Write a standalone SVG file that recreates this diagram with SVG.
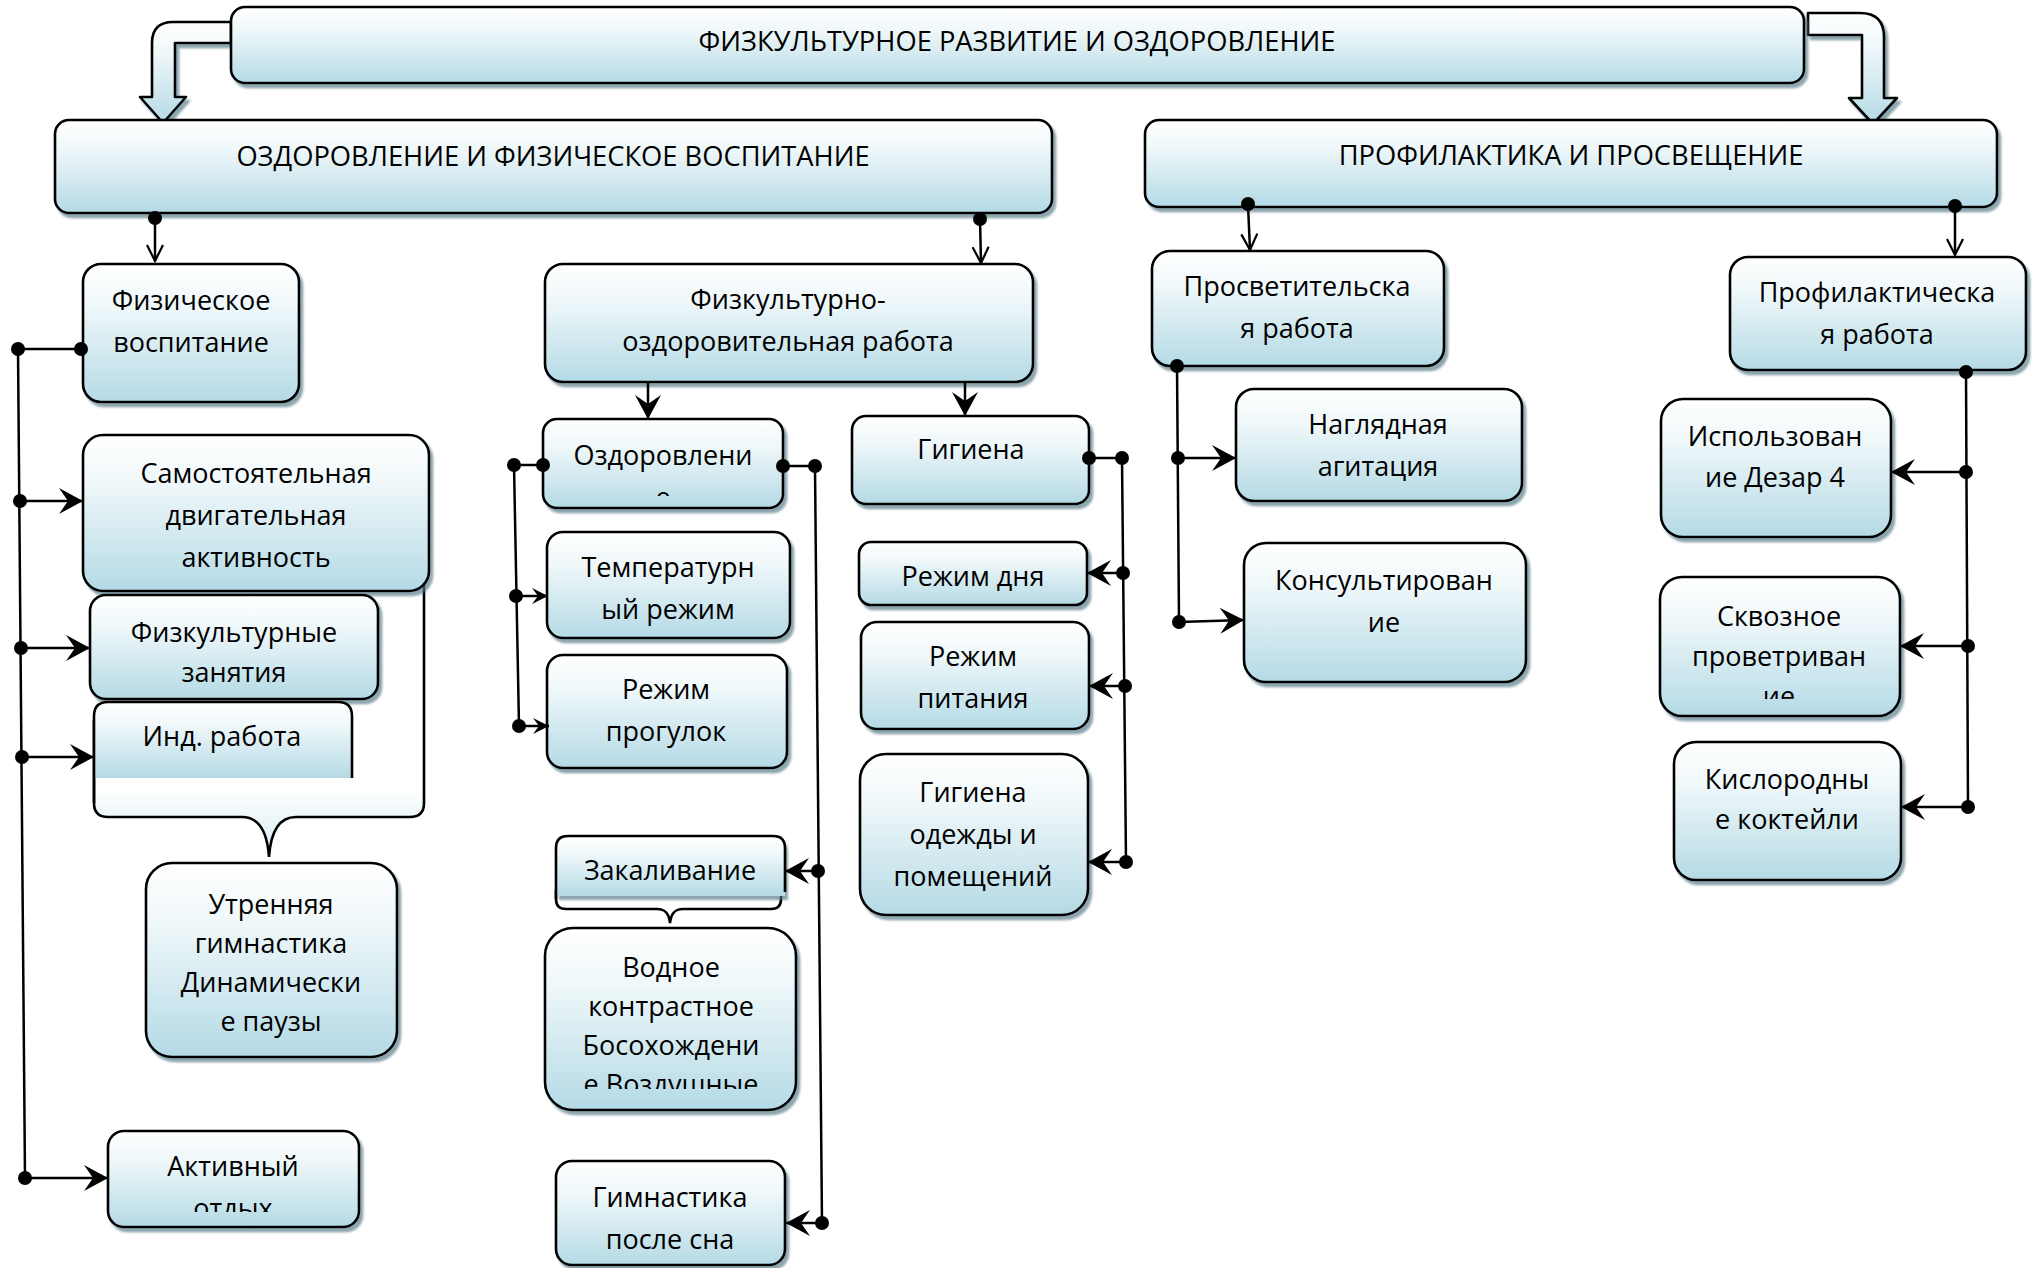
<svg xmlns="http://www.w3.org/2000/svg" width="2038" height="1268" viewBox="0 0 2038 1268">
<defs>
<linearGradient id="g" x1="0" y1="0" x2="0" y2="1">
<stop offset="0" stop-color="#ffffff"/>
<stop offset="0.3" stop-color="#f0f8fa"/>
<stop offset="1" stop-color="#b4dae5"/>
</linearGradient>
<linearGradient id="gb" x1="0" y1="0" x2="0" y2="1">
<stop offset="0" stop-color="#ffffff"/>
<stop offset="0.75" stop-color="#ffffff"/>
<stop offset="1" stop-color="#d3ebf1"/>
</linearGradient>
<filter id="sh" x="-5%" y="-5%" width="115%" height="120%">
<feDropShadow dx="3" dy="4" stdDeviation="1" flood-color="#4f7382" flood-opacity="0.65"/>
</filter>
<marker id="dart" viewBox="-26 -15 28 30" refX="0" refY="0" markerWidth="28" markerHeight="30" orient="auto" markerUnits="userSpaceOnUse">
<path d="M0,0 L-24,-13 L-15,0 L-24,13 Z" fill="#000"/>
</marker>
<marker id="sdart" viewBox="-18 -10 20 20" refX="0" refY="0" markerWidth="20" markerHeight="20" orient="auto" markerUnits="userSpaceOnUse">
<path d="M0,0 L-16,-8 L-10,0 L-16,8 Z" fill="#000"/>
</marker>
<marker id="vee" viewBox="-20 -11 22 22" refX="0" refY="0" markerWidth="22" markerHeight="22" orient="auto" markerUnits="userSpaceOnUse">
<path d="M-16,-8 L0,0 L-16,8" fill="none" stroke="#000" stroke-width="2.2"/>
</marker>
<clipPath id="c8"><rect x="543" y="419" width="240" height="77"/></clipPath>
<clipPath id="c6"><rect x="108" y="1131" width="251" height="81"/></clipPath>
<clipPath id="c12"><rect x="545" y="928" width="251" height="161"/></clipPath>
<clipPath id="c23"><rect x="1660" y="577" width="240" height="122"/></clipPath>
<style>
.box{fill:url(#g);stroke:#000;stroke-width:2.6;filter:url(#sh)}
.t{font-family:"Open Sans","DejaVu Sans",sans-serif;font-size:27px;text-anchor:middle;fill:#000}
.h{font-size:27.3px}
.ln{stroke:#000;stroke-width:2.5;fill:none}
.dot{fill:#000}
.barrow{fill:url(#g);stroke:#000;stroke-width:2.6;stroke-linejoin:round;filter:url(#sh)}
</style>
</defs>
<rect width="2038" height="1268" fill="#ffffff"/>

<!-- bent block arrows -->
<g id="bent-left">
<path class="barrow" d="M231,22 H173 Q152,22 152,43 V97 H140 L163,123 L186,97 H175 V43 H231 Z"/>
</g>
<g id="bent-right">
<path class="barrow" d="M1808,13 H1860 Q1884,13 1884,37 V98 H1897 L1873,124 L1849,98 H1862 V35 H1808 Z"/>
</g>

<g id="top">
<rect class="box" x="231" y="7" width="1573" height="76" rx="14"/>
<text class="t h" x="1017" y="51">ФИЗКУЛЬТУРНОЕ РАЗВИТИЕ И ОЗДОРОВЛЕНИЕ</text>
</g>
<g id="ozdorovlenie-header">
<rect class="box" x="55" y="120" width="997" height="93" rx="14"/>
<text class="t h" x="553" y="166">ОЗДОРОВЛЕНИЕ И ФИЗИЧЕСКОЕ ВОСПИТАНИЕ</text>
</g>
<g id="profilaktika-header">
<rect class="box" x="1145" y="120" width="852" height="87" rx="14"/>
<text class="t h" x="1571" y="165">ПРОФИЛАКТИКА И ПРОСВЕЩЕНИЕ</text>
</g>

<!-- brace callout behind Инд. работа -->
<g id="ind-brace">
<path d="M424,583 V803 Q424,817 410,817 H296 C281,817 271,828 269,857 C267,828 257,817 242,817 H108 Q94,817 94,803 V720" fill="url(#gb)" stroke="#000" stroke-width="2.6"/>
</g>

<g id="n1">
<rect class="box" x="83" y="264" width="216" height="138" rx="18"/>
<text class="t" x="191" y="310">Физическое</text>
<text class="t" x="191" y="352">воспитание</text>
</g>
<g id="n2">
<rect class="box" x="83" y="435" width="346" height="156" rx="20"/>
<text class="t" x="256" y="483">Самостоятельная</text>
<text class="t" x="256" y="525">двигательная</text>
<text class="t" x="256" y="567">активность</text>
</g>
<g id="n3">
<rect class="box" x="90" y="595" width="288" height="104" rx="16"/>
<text class="t" x="234" y="642">Физкультурные</text>
<text class="t" x="234" y="682">занятия</text>
</g>
<g id="n4">
<path d="M94,778 V716 Q94,702 108,702 H338 Q352,702 352,716 V778 Z" fill="url(#g)"/>
<path d="M94,803 V716 Q94,702 108,702 H338 Q352,702 352,716 V778" fill="none" stroke="#000" stroke-width="2.6"/>
<text class="t" x="222" y="746">Инд. работа</text>
</g>
<g id="n5">
<rect class="box" x="146" y="863" width="251" height="194" rx="26"/>
<text class="t" x="271" y="914">Утренняя</text>
<text class="t" x="271" y="953">гимнастика</text>
<text class="t" x="271" y="992">Динамически</text>
<text class="t" x="271" y="1031">е паузы</text>
</g>
<g id="n6">
<rect class="box" x="108" y="1131" width="251" height="96" rx="16"/>
<g clip-path="url(#c6)">
<text class="t" x="233" y="1176">Активный</text>
<text class="t" x="233" y="1218">отдых</text>
</g>
</g>

<g id="n7">
<rect class="box" x="545" y="264" width="488" height="118" rx="18"/>
<text class="t" x="788" y="309">Физкультурно-</text>
<text class="t" x="788" y="351">оздоровительная работа</text>
</g>
<g id="n8">
<rect class="box" x="543" y="419" width="240" height="89" rx="14"/>
<g clip-path="url(#c8)">
<text class="t" x="663" y="465">Оздоровлени</text>
<text class="t" x="663" y="507">е</text>
</g>
</g>
<g id="n9">
<rect class="box" x="547" y="532" width="243" height="106" rx="16"/>
<text class="t" x="668" y="577">Температурн</text>
<text class="t" x="668" y="619">ый режим</text>
</g>
<g id="n10">
<rect class="box" x="547" y="655" width="240" height="113" rx="16"/>
<text class="t" x="666" y="699">Режим</text>
<text class="t" x="666" y="741">прогулок</text>
</g>
<g id="n11">
<path d="M781,890 V899 Q781,909 771,909 H683 C675,909 671,913 670,923 C669,913 665,909 657,909 H566 Q556,909 556,899 V890" fill="url(#gb)" stroke="#000" stroke-width="2.6"/>
<path d="M556,896 V848 Q556,836 568,836 H773 Q785,836 785,848 V896 Z" fill="url(#g)" filter="url(#sh)"/>
<path d="M556,899 V848 Q556,836 568,836 H773 Q785,836 785,848 V892" fill="none" stroke="#000" stroke-width="2.6"/>
<text class="t" x="670" y="880">Закаливание</text>
</g>
<g id="n12">
<rect class="box" x="545" y="928" width="251" height="182" rx="28"/>
<g clip-path="url(#c12)">
<text class="t" x="671" y="977">Водное</text>
<text class="t" x="671" y="1016">контрастное</text>
<text class="t" x="671" y="1055">Босохождени</text>
<text class="t" x="671" y="1094">е Воздушные</text>
</g>
</g>
<g id="n13">
<rect class="box" x="556" y="1161" width="229" height="104" rx="16"/>
<text class="t" x="670" y="1207">Гимнастика</text>
<text class="t" x="670" y="1249">после сна</text>
</g>

<g id="n14">
<rect class="box" x="852" y="416" width="237" height="88" rx="14"/>
<text class="t" x="971" y="459">Гигиена</text>
</g>
<g id="n15">
<rect class="box" x="859" y="542" width="228" height="63" rx="12"/>
<text class="t" x="973" y="586">Режим дня</text>
</g>
<g id="n16">
<rect class="box" x="861" y="622" width="228" height="107" rx="16"/>
<text class="t" x="973" y="666">Режим</text>
<text class="t" x="973" y="708">питания</text>
</g>
<g id="n17">
<rect class="box" x="860" y="754" width="228" height="161" rx="26"/>
<text class="t" x="973" y="802">Гигиена</text>
<text class="t" x="973" y="844">одежды и</text>
<text class="t" x="973" y="886">помещений</text>
</g>

<g id="n18">
<rect class="box" x="1152" y="251" width="292" height="115" rx="18"/>
<text class="t" x="1297" y="296">Просветительска</text>
<text class="t" x="1297" y="338">я работа</text>
</g>
<g id="n19">
<rect class="box" x="1236" y="389" width="286" height="112" rx="18"/>
<text class="t" x="1378" y="434">Наглядная</text>
<text class="t" x="1378" y="476">агитация</text>
</g>
<g id="n20">
<rect class="box" x="1244" y="543" width="282" height="139" rx="22"/>
<text class="t" x="1384" y="590">Консультирован</text>
<text class="t" x="1384" y="632">ие</text>
</g>
<g id="n21">
<rect class="box" x="1730" y="257" width="296" height="113" rx="18"/>
<text class="t" x="1877" y="302">Профилактическа</text>
<text class="t" x="1877" y="344">я работа</text>
</g>
<g id="n22">
<rect class="box" x="1661" y="399" width="230" height="138" rx="22"/>
<text class="t" x="1775" y="446">Использован</text>
<text class="t" x="1775" y="487">ие Дезар 4</text>
</g>
<g id="n23">
<rect class="box" x="1660" y="577" width="240" height="139" rx="22"/>
<g clip-path="url(#c23)">
<text class="t" x="1779" y="626">Сквозное</text>
<text class="t" x="1779" y="666">проветриван</text>
<text class="t" x="1779" y="706">ие</text>
</g>
</g>
<g id="n24">
<rect class="box" x="1674" y="742" width="227" height="138" rx="22"/>
<text class="t" x="1787" y="789">Кислородны</text>
<text class="t" x="1787" y="829">е коктейли</text>
</g>

<g id="connectors">
<line class="ln" x1="155" y1="218" x2="155" y2="261" marker-end="url(#vee)"/>
<line class="ln" x1="980" y1="219" x2="981" y2="263" marker-end="url(#vee)"/>
<line class="ln" x1="1248" y1="205" x2="1250" y2="250" marker-end="url(#vee)"/>
<line class="ln" x1="1955" y1="206" x2="1955" y2="255" marker-end="url(#vee)"/>
<line class="ln" x1="648" y1="382" x2="648" y2="419" marker-end="url(#dart)"/>
<line class="ln" x1="965" y1="382" x2="965" y2="416" marker-end="url(#dart)"/>
<line class="ln" x1="18" y1="349" x2="25" y2="1178"/>
<line class="ln" x1="18" y1="349" x2="81" y2="349"/>
<line class="ln" x1="20" y1="501" x2="83" y2="501" marker-end="url(#dart)"/>
<line class="ln" x1="21" y1="648" x2="90" y2="648" marker-end="url(#dart)"/>
<line class="ln" x1="22" y1="757" x2="94" y2="757" marker-end="url(#dart)"/>
<line class="ln" x1="25" y1="1178" x2="108" y2="1178" marker-end="url(#dart)"/>
<line class="ln" x1="514" y1="465" x2="543" y2="465"/>
<line class="ln" x1="514" y1="465" x2="519" y2="726"/>
<line class="ln" x1="516" y1="596" x2="548" y2="596" marker-end="url(#sdart)"/>
<line class="ln" x1="519" y1="726" x2="549" y2="726" marker-end="url(#sdart)"/>
<line class="ln" x1="783" y1="466" x2="815" y2="466"/>
<line class="ln" x1="815" y1="466" x2="822" y2="1223"/>
<line class="ln" x1="818" y1="871" x2="785" y2="871" marker-end="url(#dart)"/>
<line class="ln" x1="822" y1="1223" x2="786" y2="1223" marker-end="url(#dart)"/>
<line class="ln" x1="1089" y1="458" x2="1122" y2="458"/>
<line class="ln" x1="1122" y1="458" x2="1126" y2="862"/>
<line class="ln" x1="1123" y1="573" x2="1087" y2="573" marker-end="url(#dart)"/>
<line class="ln" x1="1125" y1="686" x2="1089" y2="686" marker-end="url(#dart)"/>
<line class="ln" x1="1126" y1="862" x2="1088" y2="862" marker-end="url(#dart)"/>
<line class="ln" x1="1177" y1="366" x2="1179" y2="622"/>
<line class="ln" x1="1178" y1="458" x2="1236" y2="458" marker-end="url(#dart)"/>
<line class="ln" x1="1179" y1="622" x2="1244" y2="620" marker-end="url(#dart)"/>
<line class="ln" x1="1966" y1="372" x2="1968" y2="807"/>
<line class="ln" x1="1966" y1="472" x2="1891" y2="472" marker-end="url(#dart)"/>
<line class="ln" x1="1968" y1="646" x2="1900" y2="646" marker-end="url(#dart)"/>
<line class="ln" x1="1968" y1="807" x2="1901" y2="807" marker-end="url(#dart)"/>
<circle class="dot" cx="155" cy="218" r="7"/>
<circle class="dot" cx="980" cy="219" r="7"/>
<circle class="dot" cx="1248" cy="204" r="7"/>
<circle class="dot" cx="1955" cy="206" r="7"/>
<circle class="dot" cx="18" cy="349" r="7"/>
<circle class="dot" cx="81" cy="349" r="7"/>
<circle class="dot" cx="20" cy="501" r="7"/>
<circle class="dot" cx="21" cy="648" r="7"/>
<circle class="dot" cx="22" cy="757" r="7"/>
<circle class="dot" cx="25" cy="1178" r="7"/>
<circle class="dot" cx="514" cy="465" r="7"/>
<circle class="dot" cx="543" cy="465" r="7"/>
<circle class="dot" cx="516" cy="596" r="7"/>
<circle class="dot" cx="519" cy="726" r="7"/>
<circle class="dot" cx="783" cy="466" r="7"/>
<circle class="dot" cx="815" cy="466" r="7"/>
<circle class="dot" cx="818" cy="871" r="7"/>
<circle class="dot" cx="822" cy="1223" r="7"/>
<circle class="dot" cx="1089" cy="458" r="7"/>
<circle class="dot" cx="1122" cy="458" r="7"/>
<circle class="dot" cx="1123" cy="573" r="7"/>
<circle class="dot" cx="1125" cy="686" r="7"/>
<circle class="dot" cx="1126" cy="862" r="7"/>
<circle class="dot" cx="1177" cy="366" r="7"/>
<circle class="dot" cx="1178" cy="458" r="7"/>
<circle class="dot" cx="1179" cy="622" r="7"/>
<circle class="dot" cx="1966" cy="372" r="7"/>
<circle class="dot" cx="1966" cy="472" r="7"/>
<circle class="dot" cx="1968" cy="646" r="7"/>
<circle class="dot" cx="1968" cy="807" r="7"/>
</g>
</svg>
